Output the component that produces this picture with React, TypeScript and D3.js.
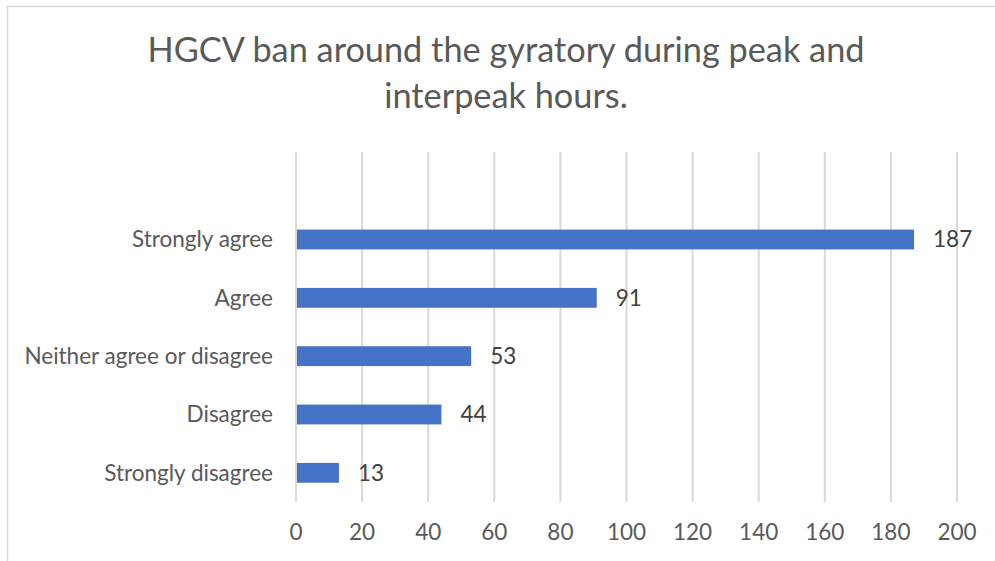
import * as d3 from "d3"

const categories = ["Strongly agree", "Agree", "Neither agree or disagree", "Disagree", "Strongly disagree"]
const counts = [187, 91, 53, 44, 13]
const xTicks = [0, 20, 40, 60, 80, 100, 120, 140, 160, 180, 200]
const titleLines = ["HGCV ban around the gyratory during peak and", "interpeak hours."]

const W = 995
const H = 561
const MARGIN = { top: 152, right: 38, bottom: 59, left: 296 }
const FONT = "Lato, Carlito, Calibri, sans-serif"

export default function App() {
  const boundsWidth = W - MARGIN.left - MARGIN.right
  const boundsHeight = H - MARGIN.top - MARGIN.bottom

  const xScale = d3.scaleLinear().domain([0, 200]).range([0, boundsWidth])

  // excel leaves an empty slot above the first category
  const yScale = d3
    .scaleBand()
    .domain(["", ...categories])
    .range([0, boundsHeight])
    .paddingInner(0.66)
    .paddingOuter(0.33)

  return (
    <div style={{ position: "absolute", left: 0, top: 0 }}>
      <svg width={W} height={H} style={{ display: "block", background: "#fff" }}>
        <rect x={7.5} y={6.5} width={1000} height={600} fill="#fff" stroke="#d9d9d9" strokeWidth={1.5} />
        {titleLines.map((t, i) => (
          <text
            key={i}
            x={506}
            y={62 + i * 46}
            textAnchor="middle"
            fill="#595959"
            fontSize={34.3}
            fontFamily={FONT}
          >
            {t}
          </text>
        ))}
        <g transform={`translate(${MARGIN.left},${MARGIN.top})`}>
          {xTicks.map((t) => (
            <g key={t}>
              <line
                x1={xScale(t)}
                x2={xScale(t)}
                y1={0}
                y2={boundsHeight}
                stroke="#d9d9d9"
                strokeWidth={2}
              />
              <text
                x={xScale(t)}
                y={boundsHeight + 38}
                textAnchor="middle"
                fill="#595959"
                fontSize={22.5}
                fontFamily={FONT}
              >
                {t}
              </text>
            </g>
          ))}
          {categories.map((c, i) => {
            const y = yScale(c)!
            const bh = yScale.bandwidth()
            const cy = y + bh / 2
            return (
              <g key={c}>
                <rect x={xScale(0) + 1} y={y} width={xScale(counts[i]) - 1} height={bh} fill="#4472C4" />
                <text
                  x={-23}
                  y={cy}
                  dy="0.35em"
                  textAnchor="end"
                  fill="#595959"
                  fontSize={22.5}
                  fontFamily={FONT}
                >
                  {c}
                </text>
                <text
                  x={xScale(counts[i]) + 19}
                  y={cy}
                  dy="0.35em"
                  fill="#404040"
                  fontSize={22.5}
                  fontFamily={FONT}
                >
                  {counts[i]}
                </text>
              </g>
            )
          })}
        </g>
      </svg>
    </div>
  )
}
